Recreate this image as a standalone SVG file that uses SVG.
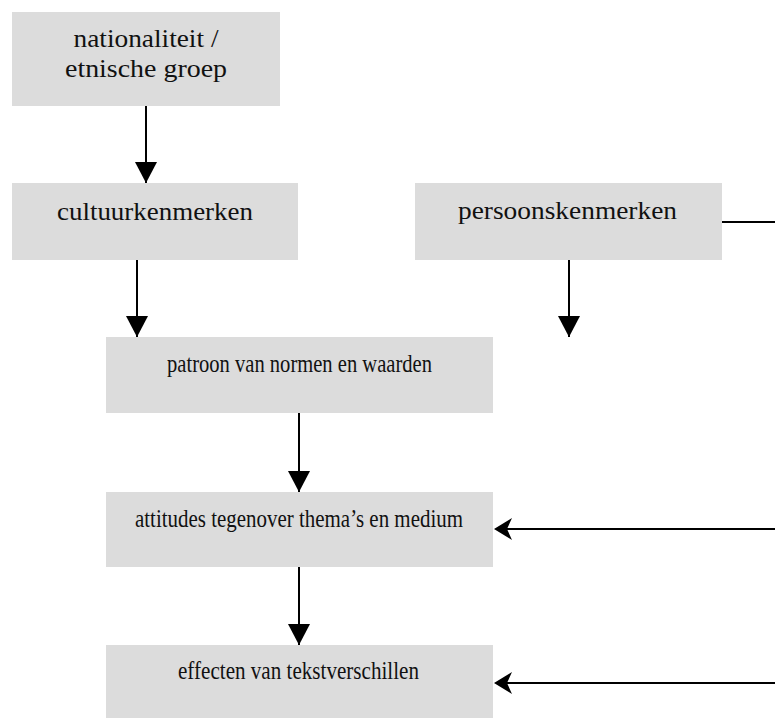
<svg xmlns="http://www.w3.org/2000/svg" width="775" height="718" viewBox="0 0 775 718">
<style>
.box{fill:#dcdcdc}
.t{font-family:"Liberation Serif","Times New Roman",serif;font-size:26px;fill:#111;text-anchor:middle}
.c{stroke:#000;stroke-width:2;fill:none}
</style>
<defs>
<marker id="av" markerWidth="22" markerHeight="21" refX="11" refY="21" orient="0" markerUnits="userSpaceOnUse"><path d="M0,0 L22,0 L11,21 Z" fill="#000"/></marker>
</defs>
<rect width="775" height="718" fill="#fff"/>
<g id="connectors">
<line class="c" x1="146" y1="106" x2="146" y2="183" marker-end="url(#av)"/>
<line class="c" x1="137" y1="260" x2="137" y2="337" marker-end="url(#av)"/>
<line class="c" x1="569" y1="260" x2="569" y2="337" marker-end="url(#av)"/>
<line class="c" x1="299" y1="413" x2="299" y2="492" marker-end="url(#av)"/>
<line class="c" x1="299" y1="567" x2="299" y2="645" marker-end="url(#av)"/>
<line class="c" x1="722" y1="222" x2="775" y2="222"/>
<line class="c" x1="775" y1="529" x2="500" y2="529"/>
<path d="M494,529 L512,518 L507,529 L512,540 Z" fill="#000"/>
<line class="c" x1="775" y1="683" x2="500" y2="683"/>
<path d="M494,683 L512,672 L507,683 L512,694 Z" fill="#000"/>
</g>
<g id="n1"><rect class="box" x="12" y="12" width="268" height="94"/>
<text class="t" x="146" y="47" textLength="145" lengthAdjust="spacingAndGlyphs">nationaliteit /</text>
<text class="t" x="146" y="77" textLength="162" lengthAdjust="spacingAndGlyphs">etnische groep</text></g>
<g id="n2"><rect class="box" x="12" y="183" width="286" height="77"/>
<text class="t" x="155" y="220" textLength="196" lengthAdjust="spacingAndGlyphs">cultuurkenmerken</text></g>
<g id="n3"><rect class="box" x="415" y="183" width="307" height="77"/>
<text class="t" x="567.5" y="219" textLength="219" lengthAdjust="spacingAndGlyphs">persoonskenmerken</text></g>
<g id="n4"><rect class="box" x="106" y="337" width="387" height="76"/>
<text class="t" x="299.5" y="372" textLength="265" lengthAdjust="spacingAndGlyphs">patroon van normen en waarden</text></g>
<g id="n5"><rect class="box" x="106" y="492" width="387" height="75"/>
<text class="t" x="299" y="527" textLength="328" lengthAdjust="spacingAndGlyphs">attitudes tegenover thema’s en medium</text></g>
<g id="n6"><rect class="box" x="106" y="645" width="387" height="73"/>
<text class="t" x="298.5" y="679" textLength="241" lengthAdjust="spacingAndGlyphs">effecten van tekstverschillen</text></g>
</svg>
